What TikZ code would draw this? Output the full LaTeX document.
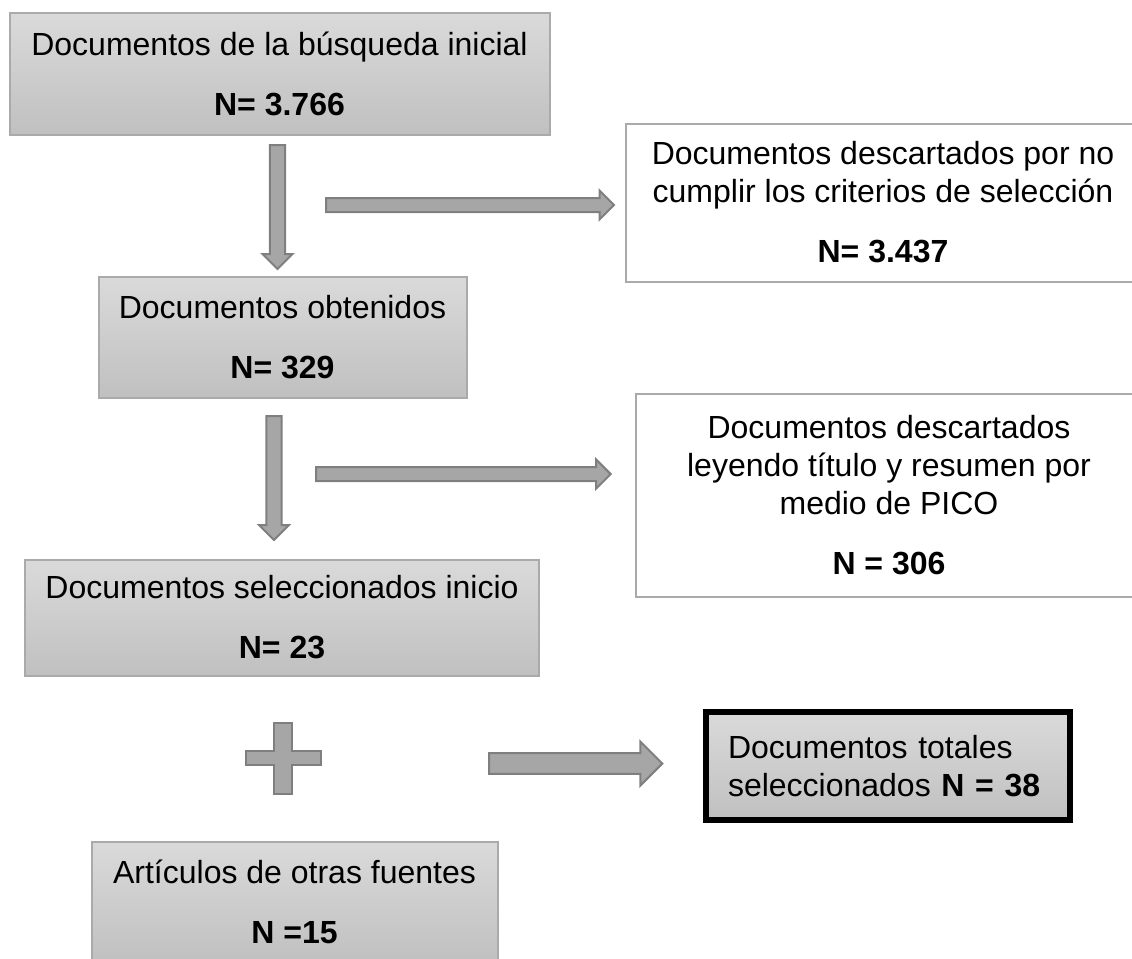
\documentclass[tikz,border=0pt]{standalone}
\usepackage{fontspec}
\setmainfont{Liberation Sans}
\usepackage{tikz}
\usetikzlibrary{shapes.arrows}
\definecolor{boxtop}{RGB}{218,218,218}
\definecolor{boxbot}{RGB}{192,192,192}
\definecolor{boxline}{RGB}{170,170,170}
\definecolor{arrowfill}{RGB}{166,166,166}
\definecolor{arrowline}{RGB}{127,127,127}

\begin{document}
\begin{tikzpicture}[x=0.75pt,y=0.75pt,yscale=-1,xscale=1,
  graybox/.style={draw=boxline, line width=1.5pt, top color=boxtop, bottom color=boxbot, align=center, inner sep=0pt, font=\fontsize{24}{28.5}\selectfont},
  whitebox/.style={draw=boxline, line width=1.5pt, fill=white, align=center, inner sep=0pt, font=\fontsize{24}{28.5}\selectfont},
  blkarrow/.style={single arrow, draw=arrowline, fill=arrowfill, line width=1.5pt, inner xsep=0pt, single arrow head indent=0pt, single arrow tip angle=90, anchor=tail}]
\useasboundingbox (0,0) rectangle (1132,958);

%Flowchart: Process
\node[graybox, minimum width=405pt, minimum height=91.5pt] (busq) at (279.5,73.5) {Documentos de la búsqueda inicial\\[16.5pt]\textbf{N= 3.766}};
%Flowchart: Process
\node[graybox, minimum width=276pt, minimum height=90.75pt] (obten) at (282.5,337) {Documentos obtenidos\\[16.5pt]\textbf{N= 329}};
%Flowchart: Process
\node[graybox, minimum width=386pt, minimum height=87pt] (selec) at (282,617.5) {Documentos seleccionados inicio\\[16.5pt]\textbf{N= 23}};
%Flowchart: Process
\node[graybox, minimum width=304.5pt, minimum height=90.75pt] (otras) at (294.5,902) {Artículos de otras fuentes\\[16.5pt]\textbf{N =15}};
%Flowchart: Process
\node[whitebox, minimum width=385.5pt, minimum height=118.5pt] (desc) at (883,202.5) {Documentos descartados por no\\cumplir los criterios de selección\\[16.5pt]\textbf{N= 3.437}};
%Flowchart: Process
\node[whitebox, minimum width=379.5pt, minimum height=152.25pt] (pico) at (889,495) {Documentos descartados\\leyendo título y resumen por\\medio de PICO\\[16.5pt]\textbf{N = 306}};
%Flowchart: Process
\node[draw=black, line width=4.5pt, top color=boxtop, bottom color=boxbot, align=left, text width=240pt, inner xsep=16.5pt, inner ysep=0pt, minimum height=81pt, font=\fontsize{24}{28.5}\selectfont] (total) at (888,766) {Documentos totales\\seleccionados \textbf{N = 38}};

%Down Arrow
\node[blkarrow, rotate=-90, minimum height=93pt, inner ysep=4.9pt, single arrow head extend=5.6pt] (abusq) at (277.5,144) {};
%Down Arrow
\node[blkarrow, rotate=-90, minimum height=93pt, inner ysep=4.9pt, single arrow head extend=5.6pt] (aobten) at (274,415) {};
%Right Arrow
\node[blkarrow, minimum height=216pt, inner ysep=4.5pt, single arrow head extend=5.6pt] (adesc) at (325,205) {};
%Right Arrow
\node[blkarrow, minimum height=221pt, inner ysep=4.5pt, single arrow head extend=5.6pt] (apico) at (315,474) {};
%Right Arrow
\node[blkarrow, minimum height=130pt, inner ysep=7.1pt, single arrow head extend=8.6pt] (atotal) at (488,763.5) {};

%Shape: Cross
\draw [draw=arrowline, fill=arrowfill, line width=1.5pt] (274,723) -- (292,723) -- (292,751) -- (321,751) -- (321,765) -- (292,765) -- (292,794) -- (274,794) -- (274,765) -- (246,765) -- (246,751) -- (274,751) -- cycle ;

\end{tikzpicture}
\end{document}
